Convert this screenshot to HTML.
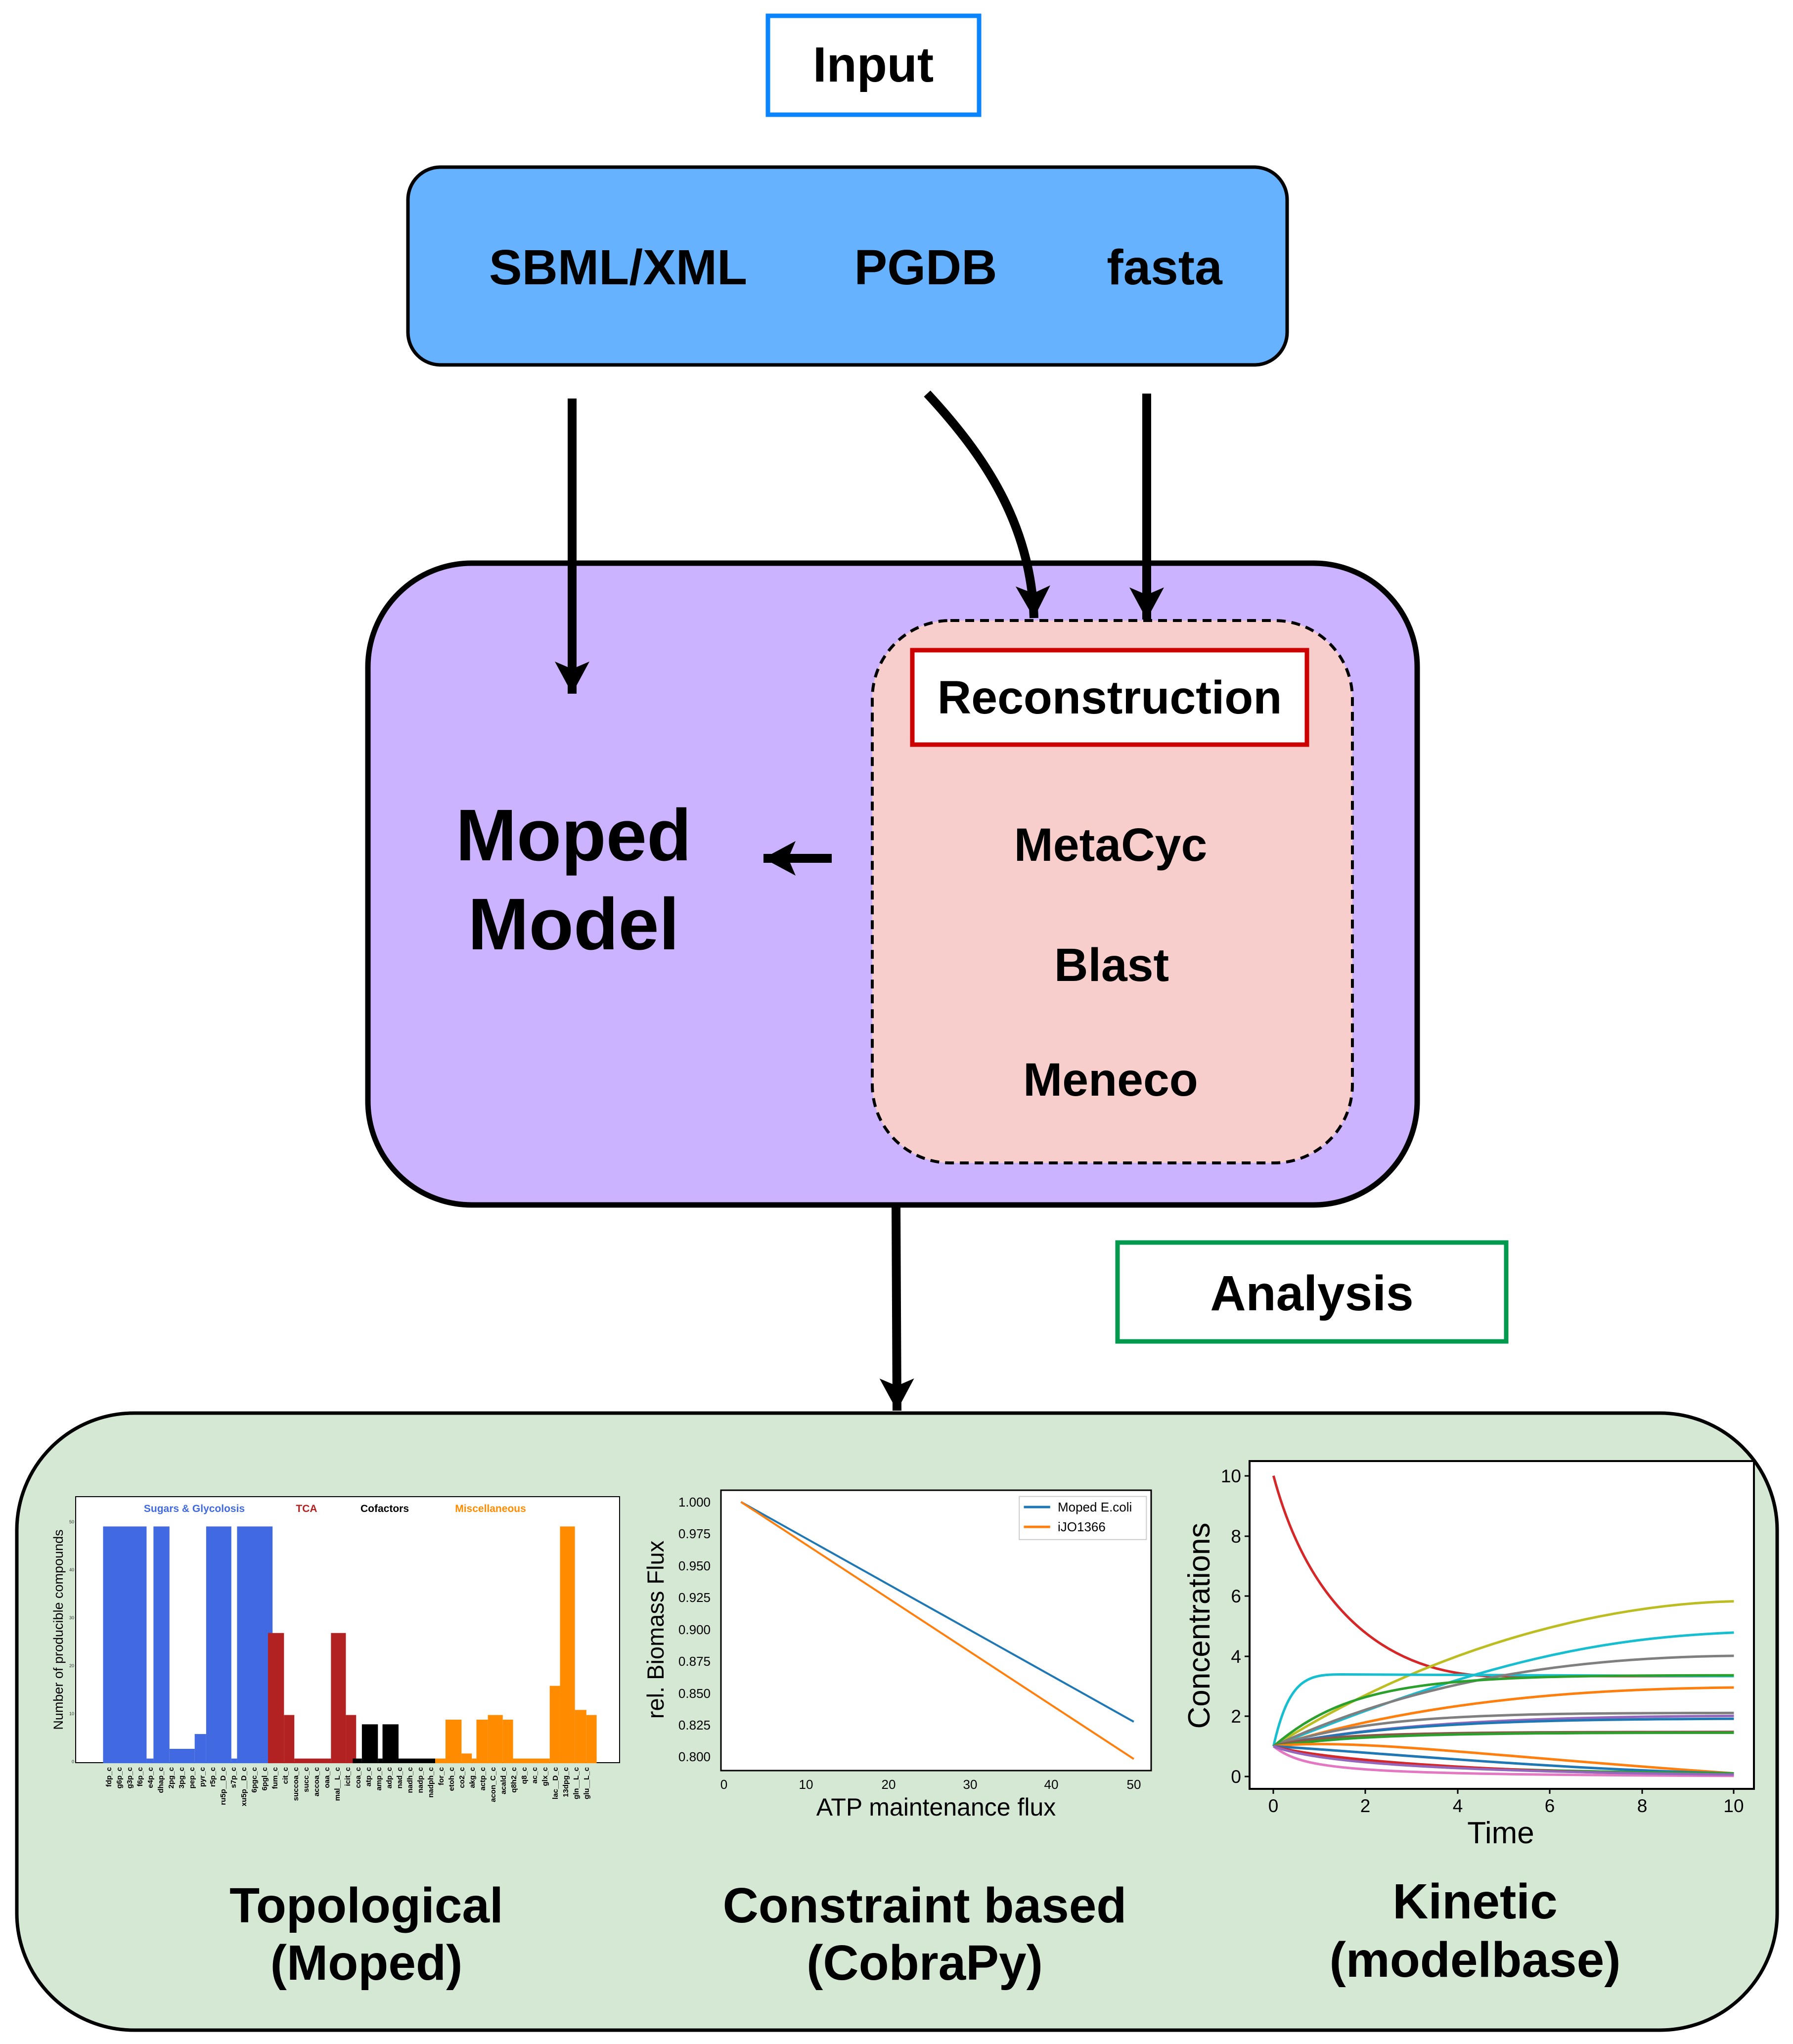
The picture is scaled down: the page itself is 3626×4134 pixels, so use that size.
<!DOCTYPE html>
<html><head><meta charset="utf-8"><style>
html,body{margin:0;padding:0;background:#fff}
svg{display:block}
text{font-family:"Liberation Sans",sans-serif}
.b{font-weight:bold}
</style></head><body>
<svg width="3626" height="4134" viewBox="0 0 3626 4134" xmlns="http://www.w3.org/2000/svg">
<defs>
<marker id="ah" viewBox="0 0 70 70" refX="65" refY="35" markerUnits="userSpaceOnUse" markerWidth="70" markerHeight="70" orient="auto">
<path d="M65,35 L0,0 L15,35 L0,70 Z" fill="#000"/>
</marker>
</defs>
<rect x="1553" y="32" width="427" height="200" fill="#fff" stroke="#0a84ff" stroke-width="9"/>
<text x="1766" y="165" font-size="100" class="b" text-anchor="middle">Input</text>
<rect x="825" y="338" width="1778" height="400" rx="66" fill="#66b2ff" stroke="#000" stroke-width="7"/>
<text x="1250" y="575" font-size="100" class="b" text-anchor="middle">SBML/XML</text>
<text x="1872" y="575" font-size="100" class="b" text-anchor="middle">PGDB</text>
<text x="2355" y="575" font-size="100" class="b" text-anchor="middle">fasta</text>
<rect x="744" y="1139" width="2122" height="1298" rx="210" fill="#ccb3ff" stroke="#000" stroke-width="11"/>
<rect x="1764" y="1255" width="971" height="1097" rx="158" fill="#f8cecc" stroke="#000" stroke-width="6" stroke-dasharray="18,12"/>
<rect x="1845" y="1315" width="798" height="191" fill="#fff" stroke="#cc0000" stroke-width="9"/>
<text x="2244" y="1443" font-size="95" class="b" text-anchor="middle">Reconstruction</text>
<text x="2246" y="1741" font-size="95" class="b" text-anchor="middle">MetaCyc</text>
<text x="2248" y="1984" font-size="95" class="b" text-anchor="middle">Blast</text>
<text x="2246" y="2216" font-size="95" class="b" text-anchor="middle">Meneco</text>
<text x="1160" y="1740" font-size="148" class="b" text-anchor="middle">Moped</text>
<text x="1160" y="1920" font-size="148" class="b" text-anchor="middle">Model</text>
<line x1="1157" y1="806" x2="1157" y2="1403" stroke="#000" stroke-width="18" marker-end="url(#ah)"/>
<path d="M1875,796 C1990,920 2085,1060 2091,1250" fill="none" stroke="#000" stroke-width="18" marker-end="url(#ah)"/>
<line x1="2319" y1="796" x2="2319" y2="1253" stroke="#000" stroke-width="18" marker-end="url(#ah)"/>
<line x1="1682" y1="1736" x2="1544" y2="1736" stroke="#000" stroke-width="18" marker-end="url(#ah)"/>
<line x1="1812" y1="2440" x2="1814" y2="2853" stroke="#000" stroke-width="18" marker-end="url(#ah)"/>
<rect x="2260" y="2513" width="786" height="200" fill="#fff" stroke="#00994d" stroke-width="9"/>
<text x="2653" y="2650" font-size="100" class="b" text-anchor="middle">Analysis</text>
<rect x="34" y="2858" width="3560" height="1248" rx="237" fill="#d5e8d4" stroke="#000" stroke-width="7"/>
<rect x="153" y="3027" width="1100" height="538" fill="#fff" stroke="#000" stroke-width="2"/>
<rect x="1458" y="3014" width="870" height="567" fill="#fff" stroke="#000" stroke-width="3"/>
<rect x="2527" y="2955" width="1020" height="663" fill="#fff" stroke="#000" stroke-width="4"/>
<g transform="translate(0,2800) scale(2.316,0.855)">
<g fill="#4169e1">
<rect x="90" y="336" width="38" height="560"/><rect x="128" y="885" width="6" height="11"/>
<rect x="134" y="336" width="14" height="560"/><rect x="148" y="862" width="22" height="34"/>
<rect x="170" y="827" width="10" height="69"/><rect x="180" y="336" width="22" height="560"/>
<rect x="202" y="885" width="5" height="11"/><rect x="207" y="336" width="31" height="560"/>
</g>
<g fill="#b22222">
<rect x="234" y="588" width="14" height="308"/><rect x="248" y="782" width="9" height="114"/>
<rect x="257" y="885" width="32" height="11"/><rect x="289" y="588" width="13" height="308"/>
<rect x="302" y="782" width="9" height="114"/>
</g>
<g fill="#000">
<rect x="308" y="885" width="8" height="11"/><rect x="316" y="804" width="14" height="92"/>
<rect x="330" y="885" width="4" height="11"/><rect x="334" y="804" width="14" height="92"/>
<rect x="348" y="885" width="32" height="11"/>
</g>
<g fill="#ff8c00">
<rect x="380" y="885" width="9" height="11"/><rect x="389" y="793" width="14" height="103"/>
<rect x="403" y="873" width="9" height="23"/><rect x="412" y="885" width="4" height="11"/>
<rect x="416" y="793" width="10" height="103"/><rect x="426" y="782" width="13" height="114"/>
<rect x="439" y="793" width="9" height="103"/><rect x="448" y="885" width="32" height="11"/>
<rect x="480" y="713" width="9" height="183"/><rect x="489" y="336" width="13" height="560"/>
<rect x="502" y="770" width="10" height="126"/><rect x="512" y="782" width="9" height="114"/>
</g>
<line x1="647" y1="278" x2="990" y2="798" stroke="#1f77b4" stroke-width="4" vector-effect="non-scaling-stroke"/>
<line x1="647" y1="278" x2="990" y2="886" stroke="#ff7f0e" stroke-width="4" vector-effect="non-scaling-stroke"/>
<rect x="890" y="265" width="111" height="102" fill="#fff" stroke="#ccc" stroke-width="2" vector-effect="non-scaling-stroke"/>
<line x1="894" y1="290" x2="917" y2="290" stroke="#1f77b4" stroke-width="5" vector-effect="non-scaling-stroke"/>
<line x1="894" y1="337" x2="917" y2="337" stroke="#ff7f0e" stroke-width="5" vector-effect="non-scaling-stroke"/>
<g fill="none">
<path vector-effect="non-scaling-stroke" stroke-width="5" stroke="#d62728" d="M1112,216 C1140,500 1200,680 1300,690 L1514,690"/>
<path vector-effect="non-scaling-stroke" stroke-width="5" stroke="#bcbd22" d="M1112,856 C1250,620 1400,520 1514,513"/>
<path vector-effect="non-scaling-stroke" stroke-width="5" stroke="#17becf" d="M1112,856 C1300,650 1400,600 1514,587"/>
<path vector-effect="non-scaling-stroke" stroke-width="5" stroke="#17becf" d="M1112,856 C1125,700 1140,686 1170,686 L1514,690"/>
<path vector-effect="non-scaling-stroke" stroke-width="5" stroke="#7f7f7f" d="M1112,856 C1250,680 1400,645 1514,642"/>
<path vector-effect="non-scaling-stroke" stroke-width="5" stroke="#2ca02c" d="M1112,856 C1180,700 1250,688 1514,688"/>
<path vector-effect="non-scaling-stroke" stroke-width="5" stroke="#ff7f0e" d="M1112,856 C1250,740 1400,720 1514,717"/>
<path vector-effect="non-scaling-stroke" stroke-width="5" stroke="#7f7f7f" d="M1112,856 C1200,780 1300,778 1514,777"/>
<path vector-effect="non-scaling-stroke" stroke-width="5" stroke="#9467bd" d="M1112,856 C1200,800 1350,786 1514,784"/>
<path vector-effect="non-scaling-stroke" stroke-width="5" stroke="#1f77b4" d="M1112,856 C1200,800 1350,792 1514,791"/>
<path vector-effect="non-scaling-stroke" stroke-width="5" stroke="#8c564b" d="M1112,856 C1150,825 1250,822 1514,822"/>
<path vector-effect="non-scaling-stroke" stroke-width="5" stroke="#2ca02c" d="M1112,856 C1180,830 1250,824 1514,824"/>
<path vector-effect="non-scaling-stroke" stroke-width="5" stroke="#ff7f0e" d="M1112,856 C1180,835 1300,880 1514,920"/>
<path vector-effect="non-scaling-stroke" stroke-width="5" stroke="#1f77b4" d="M1112,856 C1200,870 1350,910 1514,920"/>
<path vector-effect="non-scaling-stroke" stroke-width="5" stroke="#2ca02c" d="M1112,856 C1160,900 1300,915 1514,920"/>
<path vector-effect="non-scaling-stroke" stroke-width="5" stroke="#d62728" d="M1112,856 C1160,890 1300,918 1514,924"/>
<path vector-effect="non-scaling-stroke" stroke-width="5" stroke="#e377c2" d="M1112,856 C1140,915 1180,922 1514,926"/>
<path vector-effect="non-scaling-stroke" stroke-width="5" stroke="#9467bd" d="M1112,856 C1150,895 1250,915 1514,923"/>
</g>
</g>
<!-- bar chart labels -->
<text x="393" y="3058" font-size="21" class="b" fill="#4169e1" text-anchor="middle">Sugars &amp; Glycolosis</text>
<text x="620" y="3058" font-size="21" class="b" fill="#b22222" text-anchor="middle">TCA</text>
<text x="778" y="3058" font-size="21" class="b" fill="#000" text-anchor="middle">Cofactors</text>
<text x="992" y="3058" font-size="21" class="b" fill="#ff8c00" text-anchor="middle">Miscellaneous</text>
<text transform="translate(127,3296) rotate(-90)" font-size="27" text-anchor="middle">Number of producible compounds</text>
<g font-size="9" fill="#333" text-anchor="end">
<text x="150" y="3566">0</text><text x="150" y="3469">10</text><text x="150" y="3372">20</text><text x="150" y="3275">30</text><text x="150" y="3178">40</text><text x="150" y="3081">50</text>
</g>
<g font-size="15" class="b" text-anchor="end">
<text transform="translate(225,3574) rotate(-90)">fdp_c</text>
<text transform="translate(246,3574) rotate(-90)">g6p_c</text>
<text transform="translate(267,3574) rotate(-90)">g3p_c</text>
<text transform="translate(288,3574) rotate(-90)">f6p_c</text>
<text transform="translate(309,3574) rotate(-90)">e4p_c</text>
<text transform="translate(330,3574) rotate(-90)">dhap_c</text>
<text transform="translate(351,3574) rotate(-90)">2pg_c</text>
<text transform="translate(372,3574) rotate(-90)">3pg_c</text>
<text transform="translate(393,3574) rotate(-90)">pep_c</text>
<text transform="translate(414,3574) rotate(-90)">pyr_c</text>
<text transform="translate(435,3574) rotate(-90)">r5p_c</text>
<text transform="translate(456,3574) rotate(-90)">ru5p__D_c</text>
<text transform="translate(477,3574) rotate(-90)">s7p_c</text>
<text transform="translate(498,3574) rotate(-90)">xu5p__D_c</text>
<text transform="translate(519,3574) rotate(-90)">6pgc_c</text>
<text transform="translate(540,3574) rotate(-90)">6pgl_c</text>
<text transform="translate(561,3574) rotate(-90)">fum_c</text>
<text transform="translate(582,3574) rotate(-90)">cit_c</text>
<text transform="translate(603,3574) rotate(-90)">succoa_c</text>
<text transform="translate(624,3574) rotate(-90)">succ_c</text>
<text transform="translate(645,3574) rotate(-90)">accoa_c</text>
<text transform="translate(666,3574) rotate(-90)">oaa_c</text>
<text transform="translate(687,3574) rotate(-90)">mal__L_c</text>
<text transform="translate(708,3574) rotate(-90)">icit_c</text>
<text transform="translate(729,3574) rotate(-90)">coa_c</text>
<text transform="translate(750,3574) rotate(-90)">atp_c</text>
<text transform="translate(771,3574) rotate(-90)">amp_c</text>
<text transform="translate(792,3574) rotate(-90)">adp_c</text>
<text transform="translate(813,3574) rotate(-90)">nad_c</text>
<text transform="translate(834,3574) rotate(-90)">nadh_c</text>
<text transform="translate(855,3574) rotate(-90)">nadp_c</text>
<text transform="translate(876,3574) rotate(-90)">nadph_c</text>
<text transform="translate(897,3574) rotate(-90)">for_c</text>
<text transform="translate(918,3574) rotate(-90)">etoh_c</text>
<text transform="translate(939,3574) rotate(-90)">co2_c</text>
<text transform="translate(960,3574) rotate(-90)">akg_c</text>
<text transform="translate(981,3574) rotate(-90)">actp_c</text>
<text transform="translate(1002,3574) rotate(-90)">acon_C_c</text>
<text transform="translate(1023,3574) rotate(-90)">acald_c</text>
<text transform="translate(1044,3574) rotate(-90)">q8h2_c</text>
<text transform="translate(1065,3574) rotate(-90)">q8_c</text>
<text transform="translate(1086,3574) rotate(-90)">ac_c</text>
<text transform="translate(1107,3574) rotate(-90)">glx_c</text>
<text transform="translate(1128,3574) rotate(-90)">lac__D_c</text>
<text transform="translate(1149,3574) rotate(-90)">13dpg_c</text>
<text transform="translate(1170,3574) rotate(-90)">gln__L_c</text>
<text transform="translate(1191,3574) rotate(-90)">glu__L_c</text>
</g>
<!-- middle ticks -->
<g font-size="26" text-anchor="end">
<text x="1437" y="3047">1.000</text><text x="1437" y="3111">0.975</text><text x="1437" y="3176">0.950</text>
<text x="1437" y="3240">0.925</text><text x="1437" y="3305">0.900</text><text x="1437" y="3369">0.875</text>
<text x="1437" y="3434">0.850</text><text x="1437" y="3498">0.825</text><text x="1437" y="3562">0.800</text>
</g>
<g font-size="26" text-anchor="middle">
<text x="1464" y="3618">0</text><text x="1630" y="3618">10</text><text x="1797" y="3618">20</text>
<text x="1962" y="3618">30</text><text x="2126" y="3618">40</text><text x="2293" y="3618">50</text>
</g>
<text x="2139" y="3057" font-size="26">Moped E.coli</text>
<text x="2139" y="3097" font-size="26">iJO1366</text>
<text transform="translate(1342,3296) rotate(-90)" font-size="47" text-anchor="middle">rel. Biomass Flux</text>
<text x="1893" y="3672" font-size="50" text-anchor="middle">ATP maintenance flux</text>
<!-- right ticks -->
<g stroke="#000" stroke-width="3">
<line x1="2517" y1="2985" x2="2527" y2="2985"/><line x1="2517" y1="3107" x2="2527" y2="3107"/>
<line x1="2517" y1="3228" x2="2527" y2="3228"/><line x1="2517" y1="3350" x2="2527" y2="3350"/>
<line x1="2517" y1="3471" x2="2527" y2="3471"/><line x1="2517" y1="3593" x2="2527" y2="3593"/>
<line x1="2575" y1="3618" x2="2575" y2="3628"/><line x1="2761" y1="3618" x2="2761" y2="3628"/>
<line x1="2948" y1="3618" x2="2948" y2="3628"/><line x1="3134" y1="3618" x2="3134" y2="3628"/>
<line x1="3321" y1="3618" x2="3321" y2="3628"/><line x1="3506" y1="3618" x2="3506" y2="3628"/>
</g>
<g font-size="37" text-anchor="end">
<text x="2510" y="2998">10</text><text x="2510" y="3120">8</text><text x="2510" y="3241">6</text>
<text x="2510" y="3363">4</text><text x="2510" y="3484">2</text><text x="2510" y="3606">0</text>
</g>
<g font-size="37" text-anchor="middle">
<text x="2575" y="3665">0</text><text x="2761" y="3665">2</text><text x="2948" y="3665">4</text>
<text x="3134" y="3665">6</text><text x="3321" y="3665">8</text><text x="3506" y="3665">10</text>
</g>
<text transform="translate(2446,3288) rotate(-90)" font-size="62" text-anchor="middle">Concentrations</text>
<text x="3035" y="3728" font-size="62" text-anchor="middle">Time</text>
<g font-size="100" class="b" text-anchor="middle">
<text x="741" y="3888">Topological</text><text x="741" y="4004">(Moped)</text>
<text x="1870" y="3888">Constraint based</text><text x="1870" y="4004">(CobraPy)</text>
<text x="2983" y="3880">Kinetic</text><text x="2983" y="3998">(modelbase)</text>
</g>
</svg>
</body></html>
